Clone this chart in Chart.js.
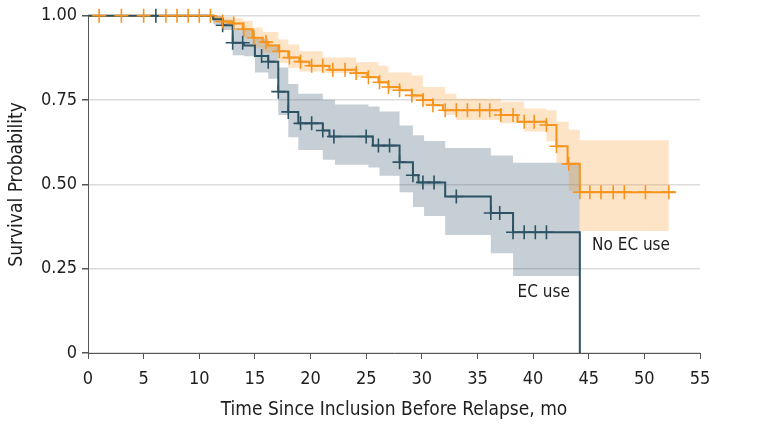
<!DOCTYPE html>
<html>
<head>
<meta charset="utf-8">
<script src="https://cdn.jsdelivr.net/npm/chart.js@4.4.0/dist/chart.umd.min.js"></script>
<style>
  html, body { margin: 0; padding: 0; background: #fff; }
</style>
</head>
<body>
<canvas id="km" width="767" height="439"></canvas>
<script>
// Kaplan-Meier, time to relapse by EC use

// No EC use: step times (mo) and survival from that time on
var noEcTimes = [0, 11.25, 12.1, 13.0, 13.9, 14.8, 15.7, 16.2, 17.1, 18.0, 19.0, 19.9, 21.7, 24.1, 25.1, 26.1, 27.0, 28.0, 29.1, 30.1, 31.0, 31.9, 37.1, 38.6, 41.2, 42.1, 43.1, 44.2, 52.8];
var noEcSurv = [1, 0.992, 0.983, 0.977, 0.96, 0.935, 0.922, 0.912, 0.895, 0.876, 0.864, 0.852, 0.84, 0.83, 0.818, 0.803, 0.789, 0.779, 0.764, 0.75, 0.735, 0.72, 0.706, 0.686, 0.676, 0.613, 0.561, 0.477, 0.477];
var noEcCensorTimes = [1, 3, 5, 7, 8, 9, 10, 11, 12.1, 13.1, 14.0, 14.9, 16.0, 17.2, 18.1, 19.1, 20.1, 21.1, 22.0, 23.1, 24.1, 25.2, 26.2, 27.0, 28.0, 29.1, 30.1, 31.0, 32.1, 33.1, 34.1, 35.2, 36.1, 37.1, 38.2, 39.2, 40.1, 41.2, 42.1, 43.2, 44.2, 45.1, 46.1, 47.2, 48.2, 50.1, 52.2];
var noEcCensorSurv = [1, 1, 1, 1, 1, 1, 1, 1, 0.983, 0.977, 0.96, 0.935, 0.922, 0.895, 0.876, 0.864, 0.852, 0.852, 0.84, 0.84, 0.83, 0.818, 0.803, 0.789, 0.779, 0.764, 0.75, 0.735, 0.72, 0.72, 0.72, 0.72, 0.72, 0.706, 0.706, 0.686, 0.686, 0.676, 0.613, 0.561, 0.477, 0.477, 0.477, 0.477, 0.477, 0.477, 0.477];
var noEcCiTimes = [0, 11.25, 12.1, 13.0, 13.9, 14.8, 15.7, 17.1, 18.0, 19.0, 21.1, 24.1, 26.1, 27.0, 29.1, 30.1, 32.1, 33.1, 37.1, 39.2, 41.2, 42.1, 43.2, 44.2, 52.2];
var noEcCiUpper = [1, 1.0, 0.997, 0.993, 0.985, 0.965, 0.952, 0.93, 0.915, 0.895, 0.876, 0.862, 0.852, 0.832, 0.823, 0.789, 0.769, 0.754, 0.745, 0.725, 0.72, 0.686, 0.662, 0.631, 0.631];
var noEcCiLower = [1, 0.98, 0.968, 0.958, 0.935, 0.905, 0.89, 0.86, 0.845, 0.835, 0.83, 0.818, 0.798, 0.779, 0.754, 0.735, 0.706, 0.691, 0.681, 0.657, 0.628, 0.564, 0.481, 0.362, 0.362];

// EC use
var ecTimes = [0, 11.25, 12.1, 13.0, 14.0, 15.0, 16.2, 17.1, 18.0, 18.9, 21.1, 21.7, 25.6, 28.0, 29.2, 29.7, 32.1, 36.2, 38.2, 44.2];
var ecSurv = [1, 0.99, 0.972, 0.92, 0.912, 0.881, 0.864, 0.775, 0.715, 0.681, 0.66, 0.642, 0.615, 0.566, 0.527, 0.506, 0.464, 0.415, 0.358, 0];
var ecCensorTimes = [6.1, 12.1, 13.0, 13.9, 15.6, 16.2, 17.1, 18.0, 19.1, 20.1, 21.1, 22.1, 25.0, 26.1, 27.1, 28.0, 29.2, 30.1, 31.1, 33.1, 36.2, 37.0, 38.2, 39.2, 40.2, 41.2];
var ecCensorSurv = [1, 0.972, 0.92, 0.92, 0.881, 0.864, 0.775, 0.715, 0.681, 0.681, 0.66, 0.642, 0.642, 0.615, 0.615, 0.566, 0.527, 0.506, 0.506, 0.464, 0.415, 0.415, 0.358, 0.358, 0.358, 0.358];
var ecCiTimes = [0, 11.25, 12.1, 13.0, 14.0, 15.0, 16.2, 17.1, 18.0, 18.9, 21.1, 22.2, 25.2, 26.2, 28.0, 29.2, 30.2, 32.1, 36.2, 38.2, 44.2];
var ecCiUpper = [1, 1.0, 0.988, 0.964, 0.96, 0.932, 0.915, 0.847, 0.798, 0.769, 0.751, 0.737, 0.731, 0.716, 0.675, 0.646, 0.629, 0.608, 0.586, 0.564, 0.564];
var ecCiLower = [1, 0.975, 0.958, 0.883, 0.88, 0.832, 0.813, 0.706, 0.64, 0.602, 0.573, 0.558, 0.55, 0.526, 0.477, 0.433, 0.406, 0.35, 0.296, 0.228, 0.228];

var xTicks = [0, 5, 10, 15, 20, 25, 30, 35, 40, 45, 50, 55];
var yTicks = [0, 0.25, 0.5, 0.75, 1];
var yTickLabels = ['0', '0.25', '0.50', '0.75', '1.00'];

var orange = '#f7941d';
var slate = '#2c5264';
var fontFamily = "'DejaVu Sans Condensed', 'DejaVu Sans', sans-serif";

function pts(xs, ys) {
    return xs.map(function(x, i) { return {x: x, y: ys[i]}; });
}

Chart.defaults.font.family = fontFamily;
Chart.defaults.color = '#1e1e1e';

// group labels next to the curves
var curveLabels = {
    id: 'curveLabels',
    afterDatasetsDraw: function(chart) {
        var ctx = chart.ctx, xs = chart.scales.x, ys = chart.scales.y;
        ctx.save();
        ctx.font = '17px ' + fontFamily;
        ctx.fillStyle = '#1e1e1e';
        ctx.textBaseline = 'middle';
        ctx.textAlign = 'left';
        ctx.fillText('No EC use', xs.getPixelForValue(45.3), ys.getPixelForValue(0.319));
        ctx.fillText('EC use', xs.getPixelForValue(38.6), ys.getPixelForValue(0.178));
        ctx.restore();
    }
};

var ctx = document.getElementById('km').getContext('2d');
var chart = new Chart(ctx, {
    type: 'line',
    data: {
        datasets: [
            {
                label: 'No EC use censored',
                data: pts(noEcCensorTimes, noEcCensorSurv),
                showLine: false,
                pointStyle: 'cross',
                pointRadius: 7,
                pointBorderWidth: 1.6,
                borderColor: orange,
                clip: false,
                order: 0
            },
            {
                label: 'EC use censored',
                data: pts(ecCensorTimes, ecCensorSurv),
                showLine: false,
                pointStyle: 'cross',
                pointRadius: 7,
                pointBorderWidth: 1.6,
                borderColor: slate,
                clip: false,
                order: 1
            },
            {
                label: 'EC use',
                data: pts(ecTimes, ecSurv),
                stepped: 'before',
                borderColor: slate,
                borderWidth: 2,
                pointRadius: 0,
                fill: false,
                clip: false,
                order: 2
            },
            {
                label: 'No EC use',
                data: pts(noEcTimes, noEcSurv),
                stepped: 'before',
                borderColor: orange,
                borderWidth: 2,
                pointRadius: 0,
                fill: false,
                clip: false,
                order: 3
            },
            {
                label: 'No EC upper',
                data: pts(noEcCiTimes, noEcCiUpper),
                stepped: 'before',
                borderWidth: 0,
                pointRadius: 0,
                backgroundColor: 'rgba(247, 148, 29, 0.25)',
                fill: '+1',
                order: 4
            },
            {
                label: 'No EC lower',
                data: pts(noEcCiTimes, noEcCiLower),
                stepped: 'before',
                borderWidth: 0,
                pointRadius: 0,
                fill: false,
                order: 5
            },
            {
                label: 'EC upper',
                data: pts(ecCiTimes, ecCiUpper),
                stepped: 'before',
                borderWidth: 0,
                pointRadius: 0,
                backgroundColor: 'rgba(46, 84, 104, 0.28)',
                fill: '+1',
                order: 6
            },
            {
                label: 'EC lower',
                data: pts(ecCiTimes, ecCiLower),
                stepped: 'before',
                borderWidth: 0,
                pointRadius: 0,
                fill: false,
                order: 7
            }
        ]
    },
    options: {
        responsive: false,
        animation: false,
        devicePixelRatio: 1,
        layout: { padding: { left: 0, right: 67, top: 11, bottom: 0 } },
        plugins: {
            legend: { display: false },
            tooltip: { enabled: false }
        },
        scales: {
            x: {
                type: 'linear',
                min: 0,
                max: 55,
                afterBuildTicks: function(scale) {
                    scale.ticks = xTicks.map(function(v) { return {value: v}; });
                },
                afterFit: function(scale) { scale.height = 86; },
                ticks: { font: { size: 18 }, padding: 10, maxRotation: 0, color: '#1e1e1e' },
                grid: { drawOnChartArea: false, tickLength: 6, tickColor: '#555' },
                border: { color: '#555', width: 1 },
                title: {
                    display: true,
                    text: 'Time Since Inclusion Before Relapse, mo',
                    font: { size: 19 },
                    color: '#1e1e1e',
                    padding: { top: 0, bottom: 18 }
                }
            },
            y: {
                min: 0,
                max: 1,
                afterBuildTicks: function(scale) {
                    scale.ticks = yTicks.map(function(v) { return {value: v}; });
                },
                afterFit: function(scale) { scale.width = 88; },
                ticks: {
                    font: { size: 18 },
                    padding: 5,
                    color: '#1e1e1e',
                    callback: function(value, index) { return yTickLabels[index]; }
                },
                grid: { color: '#dcdcdc', lineWidth: 1.5, tickLength: 6, tickColor: '#555' },
                border: { color: '#555', width: 1 },
                title: {
                    display: true,
                    text: 'Survival Probability',
                    font: { size: 19 },
                    color: '#1e1e1e',
                    padding: { top: 6, bottom: 0 }
                }
            }
        }
    },
    plugins: [curveLabels]
});
</script>
</body>
</html>
